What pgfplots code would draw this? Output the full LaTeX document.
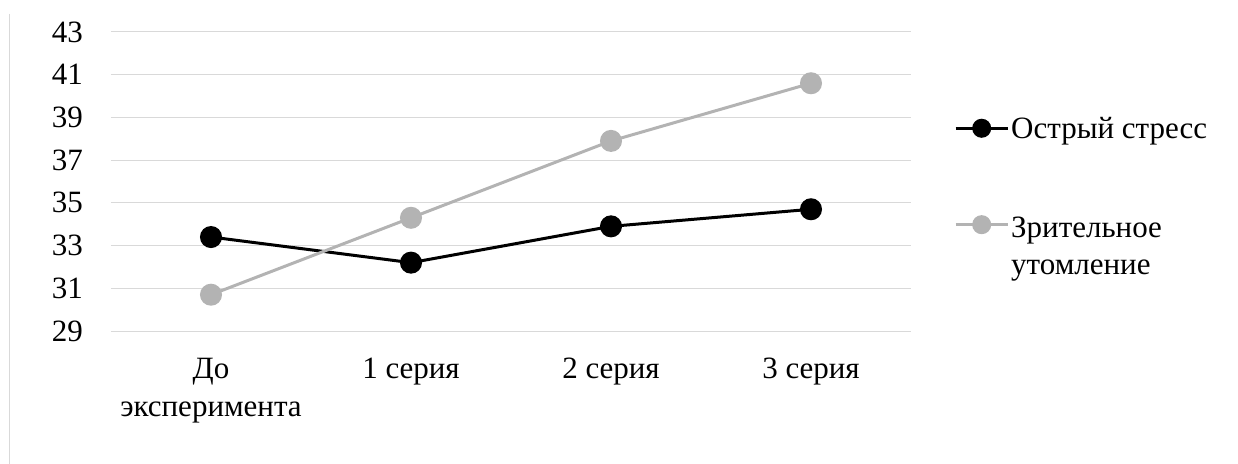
\documentclass[border=0pt]{standalone}
\usepackage{fontspec}
\setmainfont{Liberation Serif}
\usepackage{pgfplots}
\pgfplotsset{compat=1.18}
\definecolor{gridc}{HTML}{D9D9D9}
\definecolor{sgray}{HTML}{B3B3B3}
\begin{document}
\begin{tikzpicture}[font=\rmfamily]
\useasboundingbox (-111bp,-133bp) rectangle (1127bp,331bp);
\draw[color=gridc, line width=1bp] (-101bp,317bp) -- (-101bp,-133bp);
\begin{axis}[
  at={(0,0)}, anchor=south west,
  scale only axis, width=800bp, height=299bp,
  font=\rmfamily\fontsize{31bp}{38bp}\selectfont,
  xmin=-0.5, xmax=3.5, ymin=29, ymax=43,
  ytick={29,31,...,43},
  xtick={0,1,2,3},
  xticklabels={{До\\эксперимента},{1 серия},{2 серия},{3 серия}},
  xticklabel style={align=center, inner sep=0pt, anchor=north, yshift=-27bp},
  yticklabel style={anchor=east, inner sep=0pt, xshift=-28bp},
  /pgf/number format/assume math mode=true,
  ymajorgrids, grid style={color=gridc, line width=1bp},
  axis line style={draw=none},
  major tick length=0pt,
  clip=false,
  legend style={draw=none, fill=none, at={(axis description cs:1.05,0.72)}, anchor=north west, yshift=3bp,
    row sep=67bp, nodes={inner sep=2bp}, font=\rmfamily\fontsize{31bp}{38bp}\selectfont},
  legend cell align=left,
  legend image code/.code={\draw[mark repeat=2,mark phase=2,#1,mark size=8bp] plot coordinates {(0bp,0bp) (26bp,0bp) (52bp,0bp)};},
]
\addplot[black, line width=3bp, mark=*, mark size=9.5bp] coordinates {(0,33.4) (1,32.2) (2,33.9) (3,34.7)};
\addlegendentry{Острый стресс}
\addplot[sgray, line width=3bp, mark=*, mark size=9.5bp] coordinates {(0,30.7) (1,34.3) (2,37.9) (3,40.6)};
\addlegendentry{\begin{tabular}[t]{@{}l@{}}Зрительное\\[-1bp]утомление\end{tabular}}
\end{axis}
\end{tikzpicture}
\end{document}
